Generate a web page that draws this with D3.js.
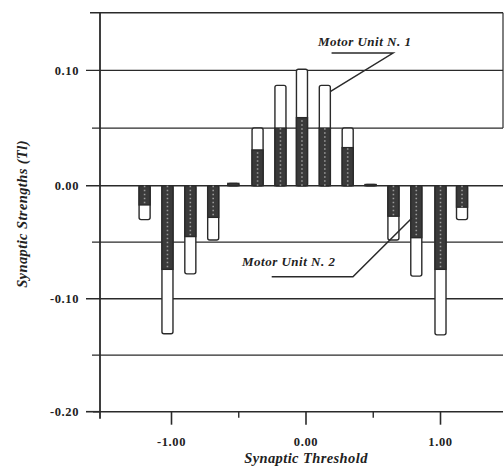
<!DOCTYPE html>
<html>
<head>
<meta charset="utf-8">
<script src="https://cdn.jsdelivr.net/npm/d3@7"></script>
<style>
  html, body { margin: 0; padding: 0; background: #fff; }
  svg { display: block; }
  text { font-family: "Liberation Serif", "DejaVu Serif", serif; fill: #222; }
</style>
</head>
<body>
<svg id="chart" width="504" height="466"></svg>
<script>
// ---- data ----
const thresholds = [-1.20, -1.03, -0.86, -0.69, -0.54, -0.36, -0.19, -0.03, 0.14, 0.31, 0.48, 0.65, 0.82, 1.00, 1.16];
const unit1 = [-0.030, -0.131, -0.078, -0.048, 0.002, 0.050, 0.087, 0.101, 0.087, 0.050, 0.001, -0.048, -0.080, -0.132, -0.030];
const unit2 = [-0.017, -0.074, -0.045, -0.028, 0.002, 0.031, 0.050, 0.059, 0.050, 0.033, 0.001, -0.027, -0.046, -0.074, -0.019];
const yMajorTicks = [-0.20, -0.10, 0.00, 0.10];
const yMinorTicks = [-0.15, -0.05, 0.05];
const xMajorTicks = [-1.00, 0.00, 1.00];
const xMinorTicks = [-0.50, 0.50];
const xTitle = "Synaptic Threshold";
const yTitle = "Synaptic Strengths (Tl)";
const labelN1 = "Motor Unit N. 1";
const labelN2 = "Motor Unit N. 2";

// ---- layout ----
const svg = d3.select("#chart");
const L = 100, R = 503;
const yTop = 0.15, yBottom = -0.20;
const x = d3.scaleLinear().domain([-1, 1]).range([171.5, 440.5]);
const y = d3.scaleLinear().domain([-0.2, 0, 0.15]).range([411.7, 185.7, 12.7]);
const ink = "#2a2a2a";
const fmt = d => d.toFixed(2);

const g = svg.append("g");

// horizontal grid lines
g.selectAll("line.major").data(yMajorTicks.filter(d => d !== -0.2)).join("line")
  .attr("x1", L - 14).attr("x2", R)
  .attr("y1", d => y(d)).attr("y2", d => y(d))
  .attr("stroke", ink).attr("stroke-width", 1.4);
g.selectAll("line.minor").data(yMinorTicks).join("line")
  .attr("x1", L - 8).attr("x2", R)
  .attr("y1", d => y(d)).attr("y2", d => y(d))
  .attr("stroke", ink).attr("stroke-width", 1.2);
// top frame line
g.append("line").attr("x1", L - 10).attr("x2", R).attr("y1", y(yTop)).attr("y2", y(yTop))
  .attr("stroke", ink).attr("stroke-width", 1.4);
// right frame (upper part visible)
g.append("line").attr("x1", R).attr("x2", R).attr("y1", y(yTop)).attr("y2", y(0.05))
  .attr("stroke", ink).attr("stroke-width", 1.2);

// bottom axis line & ticks
g.append("line").attr("x1", L - 7).attr("x2", R).attr("y1", y(yBottom)).attr("y2", y(yBottom))
  .attr("stroke", ink).attr("stroke-width", 1.6);
g.append("line").attr("x1", L - 14).attr("x2", L).attr("y1", y(yBottom)).attr("y2", y(yBottom))
  .attr("stroke", ink).attr("stroke-width", 1.6);
g.selectAll("line.xmaj").data(xMajorTicks).join("line")
  .attr("x1", d => x(d)).attr("x2", d => x(d))
  .attr("y1", y(yBottom)).attr("y2", y(yBottom) + 13)
  .attr("stroke", ink).attr("stroke-width", 1.6);
g.selectAll("line.xmin").data(xMinorTicks).join("line")
  .attr("x1", d => x(d)).attr("x2", d => x(d))
  .attr("y1", y(yBottom)).attr("y2", y(yBottom) + 6)
  .attr("stroke", ink).attr("stroke-width", 1.4);

// left axis line
g.append("line").attr("x1", L).attr("x2", L).attr("y1", y(yTop)).attr("y2", y(yBottom) + 7)
  .attr("stroke", ink).attr("stroke-width", 1.8);

// y tick labels
g.selectAll("text.ylab").data(yMajorTicks).join("text")
  .attr("x", L - 21).attr("y", d => y(d))
  .attr("dy", "0.35em").attr("text-anchor", "end")
  .attr("font-size", 12.5).attr("font-weight", "bold").attr("letter-spacing", 0.6)
  .text(fmt);
// x tick labels
g.selectAll("text.xlab").data(xMajorTicks).join("text")
  .attr("x", d => x(d)).attr("y", y(yBottom) + 34)
  .attr("text-anchor", "middle")
  .attr("font-size", 12.5).attr("font-weight", "bold").attr("letter-spacing", 0.6)
  .text(fmt);

// axis titles
g.append("text").attr("x", (x(0) + 0)).attr("y", 463)
  .attr("text-anchor", "middle").attr("font-size", 14.5).attr("font-weight", "bold")
  .attr("font-style", "italic").attr("letter-spacing", 0.4).text(xTitle);
g.append("text").attr("transform", `translate(27,${y(-0.025)}) rotate(-90)`)
  .attr("text-anchor", "middle").attr("font-size", 14.5).attr("font-weight", "bold")
  .attr("font-style", "italic").attr("letter-spacing", 0.4).text(yTitle);

// bars
const bw = x(0.082) - x(0);
const bars = thresholds.map((t, i) => ({ t, a: unit1[i], b: unit2[i] }));
const bg = g.append("g");
bg.selectAll("rect.u1").data(bars).join("rect")
  .attr("x", d => x(d.t) - bw / 2).attr("width", bw)
  .attr("y", d => Math.min(y(d.a), y(0))).attr("height", d => Math.abs(y(d.a) - y(0)))
  .attr("rx", 2).attr("fill", "#fff").attr("stroke", ink).attr("stroke-width", 1.4);
bg.selectAll("rect.u2").data(bars).join("rect")
  .attr("x", d => x(d.t) - bw / 2).attr("width", bw)
  .attr("y", d => Math.min(y(d.b), y(0))).attr("height", d => Math.abs(y(d.b) - y(0)))
  .attr("fill", "#3a3a3a").attr("stroke", ink).attr("stroke-width", 1.4);
bg.selectAll("line.dots").data(bars.filter(d => Math.abs(d.b) > 0.005)).join("line")
  .attr("x1", d => x(d.t)).attr("x2", d => x(d.t))
  .attr("y1", d => y(0)).attr("y2", d => y(d.b))
  .attr("stroke", "#9a9a9a").attr("stroke-width", 1.6).attr("stroke-dasharray", "1.5,2.5");

// annotations (in data coordinates)
const ann = [
  { text: labelN1, tx: 0.089, ty: 0.121, u0: 0.19, u1: 0.647, uy: 0.115, px: 0.18, py: 0.0815, end: "right" },
  { text: labelN2, tx: -0.476, ty: -0.0711, u0: -0.255, u1: 0.349, uy: -0.0805, px: 0.788, py: -0.0286, end: "right" }
];
ann.forEach(a => {
  g.append("text").attr("x", x(a.tx)).attr("y", y(a.ty))
    .attr("font-size", 13).attr("font-weight", "bold").attr("font-style", "italic")
    .attr("letter-spacing", 0.5).text(a.text);
  g.append("polyline")
    .attr("points", [[x(a.u0), y(a.uy)], [x(a.u1), y(a.uy)], [x(a.px), y(a.py)]].map(p => p.join(",")).join(" "))
    .attr("fill", "none").attr("stroke", ink).attr("stroke-width", 1.5);
});
</script>
</body>
</html>
